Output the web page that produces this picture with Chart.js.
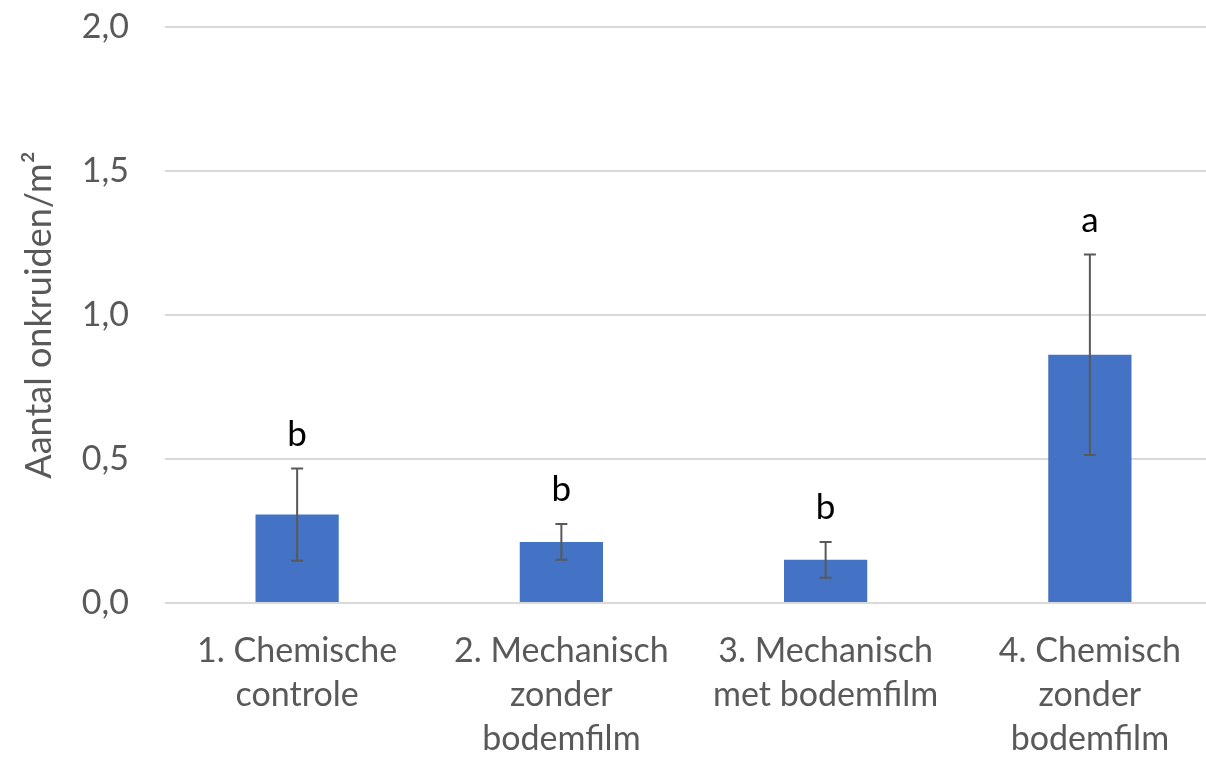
<!DOCTYPE html>
<html>
<head>
<meta charset="utf-8">
<script src="https://cdn.jsdelivr.net/npm/chart.js@4"></script>
<style>
  html, body { margin: 0; padding: 0; background: #fff; overflow: hidden; }
  #wrap { width: 1222px; height: 758px; }
</style>
</head>
<body>
<div id="wrap"><canvas id="onkruidCanvas"></canvas></div>
<script>
let categories = [
    ["1. Chemische", "controle"],
    ["2. Mechanisch", "zonder", "bodemfilm"],
    ["3. Mechanisch", "met bodemfilm"],
    ["4. Chemisch", "zonder", "bodemfilm"],
];
let onkruiden = [0.307, 0.212, 0.150, 0.862];
let foutmarge = [0.16, 0.062, 0.062, 0.348];
let letters = ["b", "b", "b", "a"];
let yTicks = [0, 0.5, 1.0, 1.5, 2.0];

// error bars and significance letters on top of the bars
let errorBarsPlugin = {
    id: "errorBars",
    afterDatasetsDraw(chart) {
        let ctx = chart.ctx;
        let x = chart.scales.x;
        let y = chart.scales.y;
        ctx.save();
        onkruiden.forEach((v, i) => {
            let cx = x.getPixelForValue(i);
            let top = y.getPixelForValue(v + foutmarge[i]);
            let bottom = y.getPixelForValue(v - foutmarge[i]);
            ctx.strokeStyle = "#595959";
            ctx.lineWidth = 2;
            ctx.beginPath();
            ctx.moveTo(cx, top);
            ctx.lineTo(cx, bottom);
            ctx.moveTo(cx - 6, top);
            ctx.lineTo(cx + 6, top);
            ctx.moveTo(cx - 6, bottom);
            ctx.lineTo(cx + 6, bottom);
            ctx.stroke();

            ctx.fillStyle = "#000";
            ctx.font = "35px Lato";
            ctx.textAlign = "center";
            ctx.textBaseline = "alphabetic";
            ctx.fillText(letters[i], cx, top - 23);
        });
        ctx.restore();
    }
};

let onkruidChart = new Chart(document.getElementById("onkruidCanvas").getContext("2d"), {
    type: "bar",
    data: {
        labels: categories,
        datasets: [
            {
                label: "Aantal onkruiden/m²",
                data: onkruiden,
                backgroundColor: "#4472c4",
                categoryPercentage: 1,
                barPercentage: 0.315,
            },
        ]
    },
    options: {
        responsive: true,
        maintainAspectRatio: false,
        animation: false,
        layout: { padding: { top: 27, right: 0, bottom: 0, left: 0 } },
        plugins: {
            legend: { display: false },
            tooltip: { enabled: false },
        },
        scales: {
            x: {
                grid: { display: false },
                border: { display: false },
                ticks: {
                    color: "#595959",
                    font: { family: "Lato", size: 34, lineHeight: 1.3 },
                    maxRotation: 0,
                    autoSkip: false,
                    padding: 18,
                },
                afterFit(scale) {
                    scale.height = 155;
                    scale.paddingLeft = 0;
                    scale.paddingRight = 0;
                },
            },
            y: {
                min: 0,
                max: 2,
                afterBuildTicks(scale) { scale.ticks = yTicks.map(v => ({ value: v })); },
                grid: { color: "#d9d9d9", lineWidth: 2, drawTicks: false },
                border: { display: false },
                ticks: {
                    color: "#595959",
                    font: { family: "Lato", size: 34 },
                    padding: 36,
                    callback: (v) => v.toFixed(1).replace(".", ","),
                },
                title: {
                    display: true,
                    text: "Aantal onkruiden/m²",
                    color: "#595959",
                    font: { family: "Lato", size: 36 },
                    padding: { top: 18, bottom: 0 },
                },
                afterFit(scale) {
                    scale.width = 165;
                    scale.paddingTop = 0;
                    scale.paddingBottom = 0;
                },
            },
        },
    },
    plugins: [errorBarsPlugin],
});
</script>
</body>
</html>
